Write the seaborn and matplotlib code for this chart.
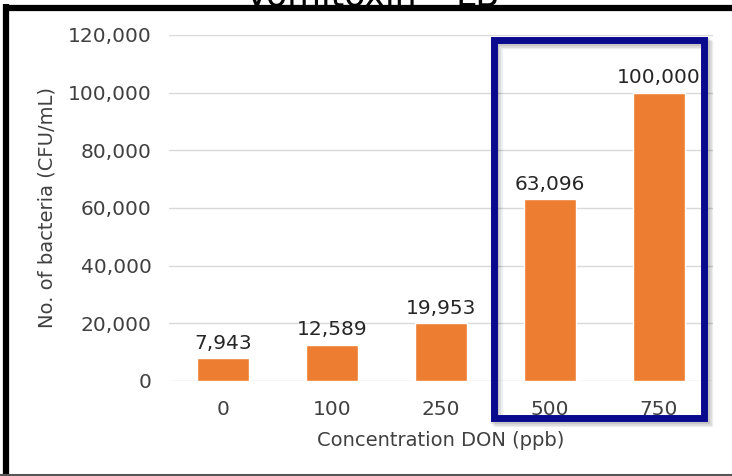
import matplotlib
matplotlib.use("Agg")
import matplotlib.pyplot as plt
import seaborn as sns
import pandas as pd
from matplotlib.patches import Rectangle
from matplotlib.lines import Line2D
from matplotlib.ticker import FuncFormatter

# Bacterial counts by DON concentration
concentrations = ["0", "100", "250", "500", "750"]
counts = [7943, 12589, 19953, 63096, 100000]
y_ticks = [0, 20000, 40000, 60000, 80000, 100000, 120000]

df = pd.DataFrame({"conc": concentrations, "count": counts})

sns.set_theme(style="white")
plt.rcParams["font.family"] = ["DejaVu Sans"]

fig = plt.figure(figsize=(7.32, 4.76), dpi=100)
ax = fig.add_axes([0.2302, 0.1996, 0.7445, 0.7269])

sns.barplot(data=df, x="conc", y="count", color="#ED7D31", saturation=1,
            width=0.47, ax=ax)

ax.set_ylim(0, 120000)
ax.set_yticks(y_ticks)
ax.yaxis.set_major_formatter(FuncFormatter(lambda v, p: f"{int(v):,}"))
ax.grid(axis="y", color="#d9d9d9", linewidth=1)
ax.set_axisbelow(True)
for s in ax.spines.values():
    s.set_visible(False)
ax.tick_params(axis="y", length=0, labelsize=14.5, colors="#404040", pad=12)
ax.tick_params(axis="x", length=0, labelsize=14.5, colors="#404040", pad=14)

ax.set_xlabel("Concentration DON (ppb)", fontsize=14, color="#404040", labelpad=8)
ax.set_ylabel("No. of bacteria (CFU/mL)", fontsize=14, color="#404040", labelpad=8)

for i, v in enumerate(counts):
    ax.annotate(f"{v:,}", (i, v), xytext=(0, 4), textcoords="offset points",
                ha="center", va="bottom", fontsize=14.5, color="#262626")

W, H = 732, 476

def fx(px):
    return px / W

def fy(py):
    return 1 - py / H

# Highlight box around the two highest concentrations (with soft drop shadow)
bx0, bx1, by0, by1 = 493.5, 704, 40, 418
for k, a in [(5, 0.06), (3.5, 0.08), (2, 0.1)]:
    fig.add_artist(Rectangle((fx(bx0 + k), fy(by1 + k)), fx(bx1) - fx(bx0),
                             fy(by0) - fy(by1), transform=fig.transFigure,
                             fill=False, edgecolor="#000000", alpha=a,
                             linewidth=6, zorder=9))
fig.add_artist(Rectangle((fx(bx0), fy(by1)), fx(bx1) - fx(bx0), fy(by0) - fy(by1),
                         transform=fig.transFigure, fill=False,
                         edgecolor="#0a0a8f", linewidth=5, zorder=10))

# Outer frame
fig.add_artist(Line2D([fx(6), fx(6)], [fy(4), fy(476)], color="black",
                      linewidth=4.5, solid_capstyle="butt",
                      transform=fig.transFigure))
fig.add_artist(Line2D([fx(3.5), 1], [fy(8), fy(8)], color="black",
                      linewidth=4.5, solid_capstyle="butt",
                      transform=fig.transFigure))
fig.add_artist(Line2D([0, 1], [fy(475), fy(475)], color="#555555",
                      linewidth=1.5, transform=fig.transFigure))

# Title, mostly above the frame
fig.text(fx(372), fy(6), "Vomitoxin – LB", ha="center", va="baseline",
         fontsize=25, color="black")

fig.savefig("out.png", dpi=100)
